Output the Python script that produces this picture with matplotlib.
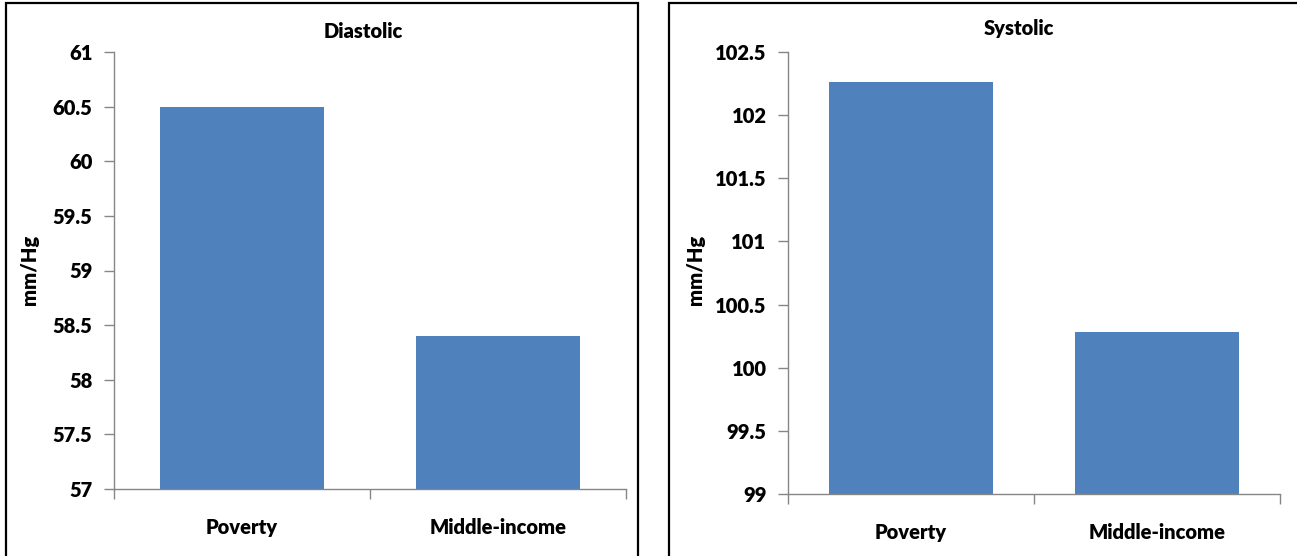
import matplotlib
matplotlib.use("Agg")
import matplotlib.pyplot as plt
from matplotlib.patches import Rectangle

categories = ["Poverty", "Middle-income"]
diastolic = [60.5, 58.4]
systolic = [102.26, 100.28]
dia_ticks = [57, 57.5, 58, 58.5, 59, 59.5, 60, 60.5, 61]
sys_ticks = [99, 99.5, 100, 100.5, 101, 101.5, 102, 102.5]

plt.rcParams['font.family'] = ['Lato', 'DejaVu Sans']

W, H = 1297, 556
fig = plt.figure(figsize=(W/100, H/100), dpi=100)

BAR = '#4F81BD'
AX = '#868686'
FS = 14.5
WT = 'heavy'

def px(x0, y0, x1, y1):
    return [x0/W, 1-y1/H, (x1-x0)/W, (y1-y0)/H]

# chart-area borders
for (x0, y0, x1, y1) in [(6, 3, 638, 600), (669, 3, 1340, 600)]:
    fig.patches.append(Rectangle((x0/W, 1-y1/H), (x1-x0)/W, (y1-y0)/H,
                                 transform=fig.transFigure, fill=False,
                                 edgecolor='#000000', linewidth=1.6))

def panel(rect, vals, ticks, width, title, tx, ty, lx):
    ax = fig.add_axes(rect)
    xs = range(len(categories))
    ax.bar(xs, vals, width=width, color=BAR, zorder=2)
    ax.set_xlim(-0.5, len(categories)-0.5)
    ax.set_ylim(ticks[0], ticks[-1])
    ax.set_yticks(ticks)
    ax.set_yticklabels([f"{t:g}" for t in ticks], fontsize=FS, fontweight=WT)
    ax.set_xticks(list(xs))
    ax.set_xticklabels(categories, fontsize=FS, fontweight=WT)
    ax.set_xticks([-0.5, 0.5, 1.5], minor=True)
    ax.tick_params(axis='x', which='major', length=0, pad=21)
    ax.tick_params(axis='x', which='minor', length=7, color=AX, width=1)
    ax.tick_params(axis='y', length=7, color=AX, width=1, pad=8.5)
    for s in ['top', 'right']:
        ax.spines[s].set_visible(False)
    for s in ['left', 'bottom']:
        ax.spines[s].set_color(AX)
        ax.spines[s].set_linewidth(1)
    fig.text(tx/W, 1-ty/H, title, ha='center', va='center', fontsize=FS, fontweight=WT)
    fig.text(lx/W, 1-270/H, "mm/Hg", ha='center', va='center', rotation=90,
             fontsize=FS, fontweight=WT)
    return ax

panel(px(114, 52, 626, 489), diastolic, dia_ticks, 0.637, "Diastolic", 363, 32, 30)
panel(px(788, 52, 1280, 494), systolic, sys_ticks, 0.663, "Systolic", 1019, 28, 695)

fig.savefig("out.png", dpi=100)
